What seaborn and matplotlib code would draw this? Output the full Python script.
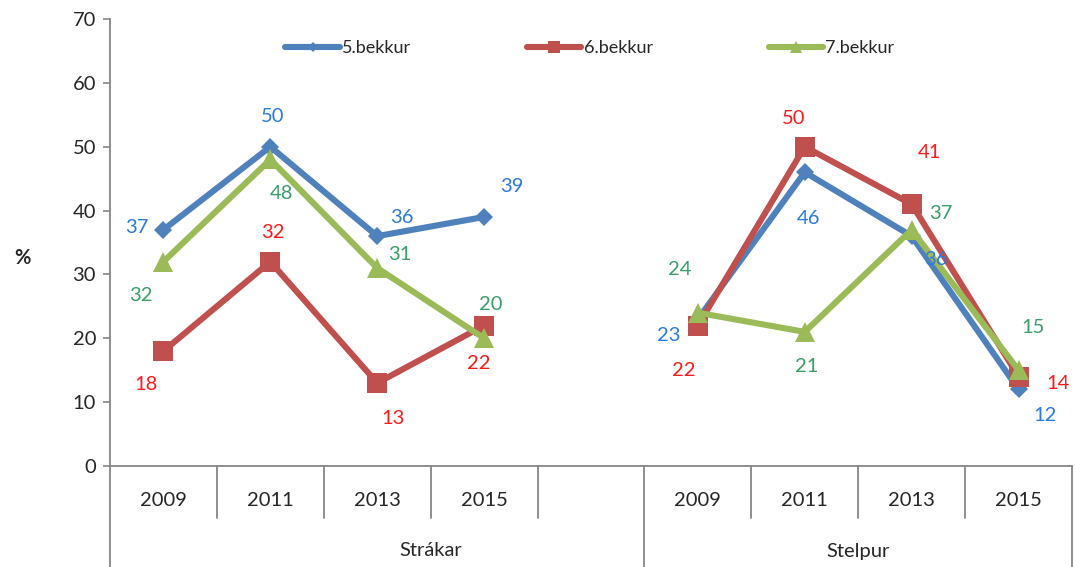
import pandas as pd
import matplotlib
matplotlib.use("Agg")
import matplotlib.pyplot as plt
import matplotlib.transforms as mtransforms
import seaborn as sns

# data
years = ["2009", "2011", "2013", "2015"]
groups = ["Strákar", "Stelpur"]
series = ["5.bekkur", "6.bekkur", "7.bekkur"]

bekkur5_strakar = [37, 50, 36, 39]
bekkur5_stelpur = [23, 46, 36, 12]
bekkur6_strakar = [18, 32, 13, 22]
bekkur6_stelpur = [22, 50, 41, 14]
bekkur7_strakar = [32, 48, 31, 20]
bekkur7_stelpur = [24, 21, 37, 15]

values = {
    ("5.bekkur", "Strákar"): bekkur5_strakar,
    ("5.bekkur", "Stelpur"): bekkur5_stelpur,
    ("6.bekkur", "Strákar"): bekkur6_strakar,
    ("6.bekkur", "Stelpur"): bekkur6_stelpur,
    ("7.bekkur", "Strákar"): bekkur7_strakar,
    ("7.bekkur", "Stelpur"): bekkur7_stelpur,
}

# styling
line_colors = {"5.bekkur": "#4F81BD", "6.bekkur": "#C0504D", "7.bekkur": "#9BBB59"}
label_colors = {"5.bekkur": "#2A7BDE", "6.bekkur": "#FF1A1A", "7.bekkur": "#3A9E68"}
markers = {"5.bekkur": "D", "6.bekkur": "s", "7.bekkur": "^"}
msizes = {"5.bekkur": 9, "6.bekkur": 14, "7.bekkur": 14}

# label offsets in pixels (dx, dy up)
label_off = {
    ("5.bekkur", "Strákar"): [(-27, 2), (2, 30), (25, 19), (28, 30)],
    ("5.bekkur", "Stelpur"): [(-29, -16), (4, -46), (24, -23), (26, -26)],
    ("6.bekkur", "Strákar"): [(-17, -33), (3, 29), (16, -36), (-5, -38)],
    ("6.bekkur", "Stelpur"): [(-14, -45), (-11, 28), (18, 52), (39, -7)],
    ("7.bekkur", "Strákar"): [(-23, -34), (11, -34), (23, 14), (7, 34)],
    ("7.bekkur", "Stelpur"): [(-18, 43), (2, -35), (29, 16), (14, 43)],
}

# slot layout: Strákar has 4 years + one empty slot, Stelpur 4 years
group_start = {"Strákar": 0, "Stelpur": 5}
n_slots = 9

rows = []
for s in series:
    for g in groups:
        for i, y in enumerate(years):
            rows.append({"series": s, "group": g, "year": y,
                         "pos": group_start[g] + i, "value": values[(s, g)][i]})
df = pd.DataFrame(rows)

sns.set_theme(style="white")
plt.rcParams["font.family"] = ["Lato", "DejaVu Sans"]

fig = plt.figure(figsize=(10.75, 5.67), dpi=100)
ax = fig.add_axes([110 / 1075, 101 / 567, 962 / 1075, 447 / 567])

for s in series:
    for j, g in enumerate(groups):
        sub = df[(df.series == s) & (df.group == g)]
        sns.lineplot(data=sub, x="pos", y="value", ax=ax, color=line_colors[s],
                     linewidth=4.4, marker=markers[s], markersize=msizes[s],
                     markeredgewidth=0, label=s if j == 0 else None,
                     legend=False, zorder=3)
        for (_, r), (dx, dy) in zip(sub.iterrows(), label_off[(s, g)]):
            ax.annotate(str(r.value), (r.pos, r.value), xytext=(dx, dy),
                        textcoords="offset pixels", ha="center", va="center",
                        fontsize=14.5, color=label_colors[s], zorder=5)

ax.set_xlim(-0.5, n_slots - 0.5)
ax.set_ylim(0, 70)
ax.set_yticks(range(0, 71, 10))
ax.tick_params(axis="y", labelsize=14.5, length=5, width=1.2, color="#868686",
               direction="out", pad=5, left=True)
ax.set_xlabel("")
ax.set_ylabel("")

for side in ["top", "right"]:
    ax.spines[side].set_visible(False)
for side in ["left", "bottom"]:
    ax.spines[side].set_color("#868686")
    ax.spines[side].set_linewidth(1.3)

# category axis: boundaries as ticks, year labels at centres
ax.set_xticks([])
trans = mtransforms.blended_transform_factory(ax.transData, ax.transAxes)
tick_len = 52 / 447
bottom = -101 / 447
for k in range(n_slots + 1):
    x = k - 0.5
    y0 = bottom if k in (0, 5, 9) else -tick_len
    ax.plot([x, x], [0, y0], transform=trans, color="#868686", lw=1.3,
            clip_on=False, zorder=1)
for g in groups:
    for i, y in enumerate(years):
        ax.text(group_start[g] + i, -34 / 447, y, transform=trans,
                ha="center", va="center", fontsize=14.5)
ax.text(2.5, -85 / 447, groups[0], transform=trans, ha="center", va="center", fontsize=14.5)
ax.text(6.5, -85 / 447, groups[1], transform=trans, ha="center", va="center", fontsize=14.5)

fig.text(22 / 1075, 1 - 258 / 567, "%", ha="center", va="center",
         fontsize=14.5, fontweight="bold")

handles, labels = ax.get_legend_handles_labels()
seen = {}
for h, l in zip(handles, labels):
    if l not in seen and not l.startswith("_"):
        seen[l] = h
leg = fig.legend(list(seen.values()), list(seen.keys()), loc="center",
                 bbox_to_anchor=(590 / 1075, 1 - 48 / 567), ncol=3, frameon=False,
                 fontsize=13, handlelength=3.0, columnspacing=6.4, handletextpad=0.15)
for h in leg.legend_handles:
    h.set_markersize(h.get_markersize() * 0.6)

fig.savefig("out.png", dpi=100)
